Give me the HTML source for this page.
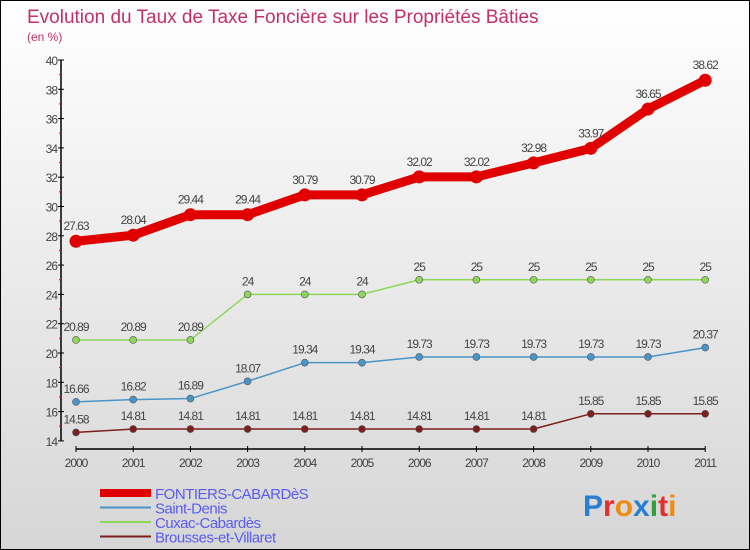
<!DOCTYPE html>
<html><head><meta charset="utf-8"><style>
body{margin:0}
#c{width:748px;height:548px;border:1px solid #000;background:linear-gradient(#fff,#d6d6d6);position:relative;overflow:hidden;font-family:"Liberation Sans",sans-serif}
</style></head><body>
<div id="c">
<svg id="s" width="748" height="548"></svg>
</div>
<script>
const years=["2000","2001","2002","2003","2004","2005","2006","2007","2008","2009","2010","2011"];
const fontiers=[27.63,28.04,29.44,29.44,30.79,30.79,32.02,32.02,32.98,33.97,36.65,38.62];
const saintDenis=[16.66,16.82,16.89,18.07,19.34,19.34,19.73,19.73,19.73,19.73,19.73,20.37];
const cuxac=[20.89,20.89,20.89,24,24,24,25,25,25,25,25,25];
const brousses=[14.58,14.81,14.81,14.81,14.81,14.81,14.81,14.81,14.81,15.85,15.85,15.85];
const yTicks=[14,16,18,20,22,24,26,28,30,32,34,36,38,40];
const NS="http://www.w3.org/2000/svg",s=document.getElementById('s');
function el(t,a,txt){const e=document.createElementNS(NS,t);for(const k in a)e.setAttribute(k,a[k]);if(txt!==undefined)e.textContent=txt;s.appendChild(e);return e;}
const X=i=>75+i*57.2, Y=v=>59+(40-v)*14.65;
let e=el('text',{x:26,y:22,fill:'#c0306a','font-size':19},'Evolution du Taux de Taxe Foncière sur les Propriétés Bâties');

e=el('text',{x:26,y:40,fill:'#c0306a','font-size':12},'(en %)');

e=el('line',{x1:60,y1:Y(40),x2:60,y2:Y(14),stroke:'#000','stroke-width':1.5});

yTicks.forEach((v,i)=>{
 e=el('line',{x1:57,y1:Y(v),x2:63,y2:Y(v),stroke:'#000'});
 
 if(i<yTicks.length-1){e=el('line',{x1:58,y1:Y(v+1),x2:61,y2:Y(v+1),stroke:'#e00'});
 }
 e=el('text',{x:56,y:Y(v)+5,'text-anchor':'end','font-size':12,fill:'#444','letter-spacing':'-1'},v);
 
});
const ax=448;
e=el('line',{x1:X(0),y1:ax,x2:X(11),y2:ax,stroke:'#000','stroke-width':1.5});

years.forEach((y,i)=>{
 e=el('line',{x1:X(i),y1:ax-3,x2:X(i),y2:ax+3,stroke:'#000'});
 
 e=el('text',{x:X(i),y:ax+18,'text-anchor':'middle','font-size':12,fill:'#444','letter-spacing':'-1'},y);
 
});
function series(d,col,w,r,name,fmt){
 e=el('polyline',{points:d.map((v,i)=>X(i)+','+Y(v)).join(' '),fill:'none',stroke:col,'stroke-width':w,'stroke-linejoin':'round'});
 
 d.forEach((v,i)=>{
  e=el('circle',{cx:X(i),cy:Y(v),r:r,fill:col,stroke:w>3?col:'#555','stroke-width':w>3?0:0.6});
  
  e=el('text',{x:X(i),y:Y(v)-(w>3?11:9),'text-anchor':'middle','font-size':12,fill:'#444','letter-spacing':'-1'},String(v));
  
 });
}
series(brousses,'#7a1e1e',1.5,3.5,'brousses');
series(saintDenis,'#4a94c8',1.5,3.5,'saint-denis');
series(cuxac,'#8ed65a',1.5,3.5,'cuxac');
series(fontiers,'#e00000',9,6.5,'fontiers');
const leg=[['FONTIERS-CABARDèS','#e00000',8],['Saint-Denis','#4a94c8',2],['Cuxac-Cabardès','#8ed65a',2],['Brousses-et-Villaret','#7a1e1e',2]];
leg.forEach((l,i)=>{
 const y=492+i*14.5;
 e=el('line',{x1:99,y1:y,x2:150,y2:y,stroke:l[1],'stroke-width':l[2]});
 
 e=el('text',{x:154,y:y+6,'font-size':15,fill:'#5b5bf0','letter-spacing':'-0.5'},l[0]);
 
});
e=el('text',{x:582,y:515,'font-size':30,'font-weight':'bold'});

[['P','#2a7fd0'],['r','#e03030'],['o','#f08a10'],['x','#2a7fd0'],['i','#30a040'],['t','#e03030'],['i','#f08a10']].forEach(c=>{
 const t=document.createElementNS(NS,'tspan');t.setAttribute('fill',c[1]);t.textContent=c[0];e.appendChild(t);});
</script>
</body></html>
